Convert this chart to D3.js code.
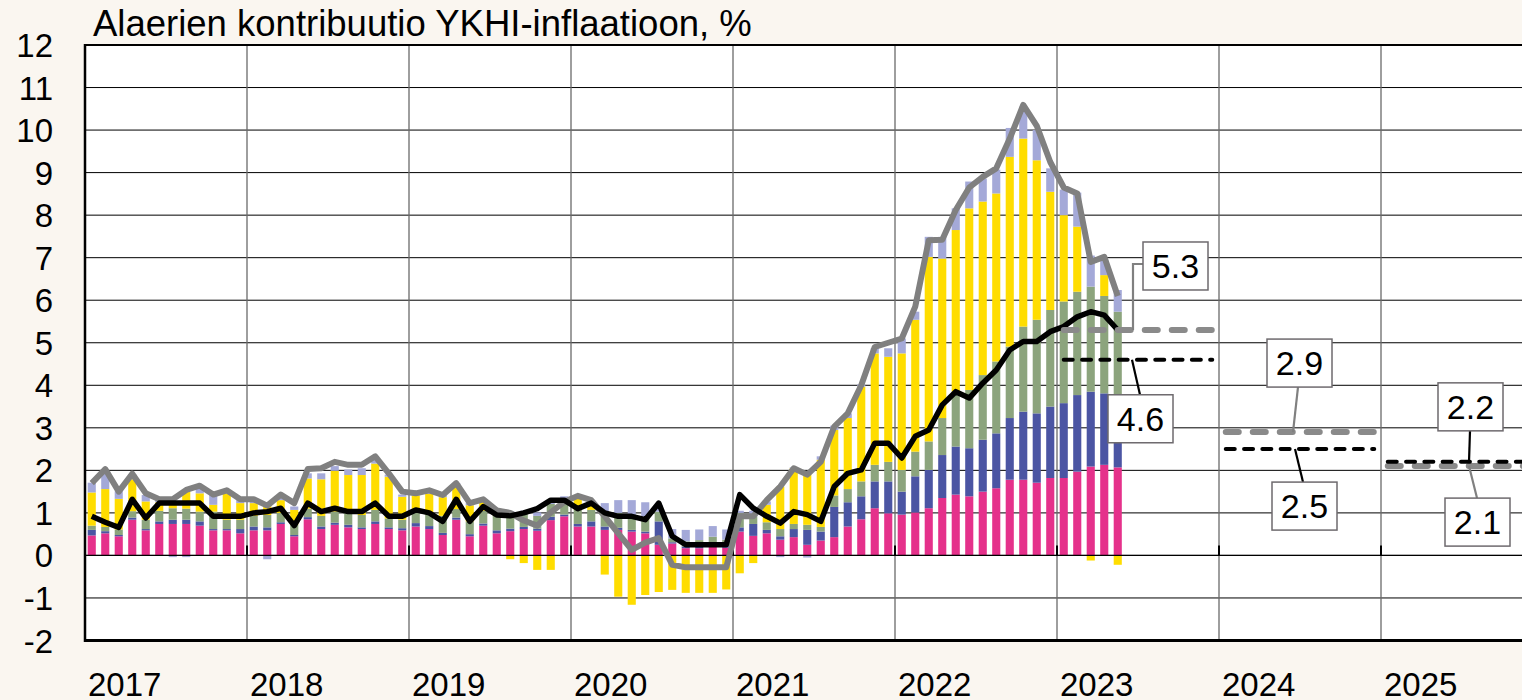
<!DOCTYPE html>
<html>
<head>
<meta charset="utf-8">
<script src="https://cdn.jsdelivr.net/npm/d3@7"></script>
<style>
  body { margin: 0; background: #faf6f0; }
  svg { display: block; font-family: "Liberation Sans", Arial, sans-serif; }
</style>
</head>
<body>
<div id="chart"></div>
<script>
// --- data (contributions, %-points) ---
const years = ["2017", "2018", "2019", "2020", "2021", "2022", "2023", "2024", "2025"];
const yTicks = [-2, -1, 0, 1, 2, 3, 4, 5, 6, 7, 8, 9, 10, 11, 12];

// Jan 2017 .. May 2023
const palvelut = [
  0.47, 0.52, 0.45, 0.84, 0.59, 0.74, 0.74, 0.74, 0.70, 0.59, 0.59, 0.52,
  0.59, 0.59, 0.74, 0.45, 0.85, 0.62, 0.72, 0.66, 0.62, 0.74, 0.62, 0.59,
  0.68, 0.62, 0.48, 0.84, 0.45, 0.70, 0.52, 0.57, 0.62, 0.58, 0.83, 0.92,
  0.68, 0.68, 0.60, 0.60, 0.56, 0.52, 0.25, 0.28, 0.17, 0.17, 0.20, 0.18,
  0.56, 0.46, 0.52, 0.37, 0.43, 0.25, 0.35, 0.43, 0.68, 0.85, 1.11, 0.99,
  0.96, 1.01, 1.11, 1.35, 1.43, 1.39, 1.50, 1.58, 1.78, 1.78, 1.71, 1.82,
  1.82, 1.97, 2.09, 2.13, 2.07];
const teollisuus = [
  0.13, 0.05, 0.03, 0.05, 0.03, 0.06, 0.10, 0.10, 0.10, 0.03, 0.03, 0.10,
  0.09, 0.07, 0.04, 0.03, 0.05, 0.06, 0.05, 0.06, 0.04, 0.06, 0.04, 0.05,
  0.08, 0.07, 0.05, 0.05, 0.05, 0.05, 0.07, 0.06, 0.05, 0.05, 0.08, 0.04,
  0.06, 0.12, 0.08, 0.05, 0.04, 0.04, 0.55, 0.03, 0.04, 0.04, 0.04, 0.04,
  0.10, 0.28, 0.08, 0.08, 0.19, 0.35, 0.21, 0.71, 0.57, 0.54, 0.63, 0.75,
  0.54, 0.85, 0.90, 1.01, 1.13, 1.13, 1.22, 1.29, 1.45, 1.60, 1.63, 1.68,
  1.76, 1.80, 1.76, 1.68, 1.70];
const elintarvikkeet = [
  0.10, 0.10, 0.13, 0.15, 0.22, 0.25, 0.27, 0.26, 0.23, 0.41, 0.22, 0.22,
  0.25, 0.29, 0.22, 0.24, 0.20, 0.25, 0.26, 0.28, 0.29, 0.27, 0.21, 0.20,
  0.25, 0.28, 0.40, 0.20, 0.30, 0.30, 0.35, 0.35, 0.33, 0.30, 0.30, 0.33,
  0.33, 0.27, 0.30, 0.35, 0.32, 0.32, 0.23, 0.09, 0.12, 0.15, 0.20, 0.15,
  0.34, 0.18, 0.18, 0.17, 0.12, 0.12, 0.11, 0.27, 0.31, 0.35, 0.39, 0.46,
  0.51, 0.58, 0.67, 0.87, 1.29, 1.37, 1.52, 1.69, 1.68, 2.00, 2.20, 2.27,
  2.39, 2.43, 2.47, 2.29, 1.96];
const energia = [
  0.78, 0.89, 0.72, 0.75, 0.43, 0.20, 0.14, 0.40, 0.43, 0.16, 0.62, 0.39,
  0.30, 0.24, 0.30, 0.35, 0.71, 0.86, 0.96, 0.89, 0.94, 1.09, 0.98, 0.54,
  0.40, 0.48, 0.44, 0.55, 0.38, 0.22, 0.07, -0.09, -0.18, -0.34, -0.34, 0.05,
  0.28, 0.13, -0.45, -0.97, -1.16, -0.93, -0.86, -0.81, -0.88, -0.88, -0.88, -0.80,
  -0.42, -0.18, 0.41, 1.00, 1.31, 1.21, 1.58, 1.54, 1.67, 2.23, 2.62, 2.47,
  2.74, 3.10, 4.34, 3.75, 3.80, 4.27, 4.08, 3.95, 4.46, 4.42, 3.75, 2.78,
  2.03, 1.53, -0.12, 0.49, -0.22];
const muut = [
  0.23, 0.40, 0.18, 0.12, 0.15, 0.07, -0.04, -0.04, 0.12, 0.23, 0.04, 0.07,
  0.05, -0.09, 0.06, 0.08, 0.12, 0.14, 0.11, 0.13, 0.16, 0.10, 0.05, 0.05,
  0.05, 0.06, 0.05, 0.06, 0.05, 0.05, 0.05, 0.06, 0.05, 0.08, 0.06, 0.05,
  0.05, 0.05, 0.25, 0.30, 0.38, 0.37, 0.15, 0.22, 0.27, 0.25, 0.25, 0.24,
  0.05, 0.13, 0.08, -0.04, 0.02, -0.05, 0.08, 0.10, 0.11, 0.05, 0.12, 0.20,
  0.35, 0.19, 0.47, 0.51, 0.51, 0.63, 0.54, 0.56, 0.68, 0.75, 0.71, 0.55,
  0.60, 0.80, 0.73, 0.36, 0.51];
const ykhi = [
  1.70, 2.03, 1.50, 1.92, 1.46, 1.32, 1.32, 1.54, 1.64, 1.43, 1.53, 1.32,
  1.32, 1.17, 1.43, 1.23, 2.03, 2.05, 2.20, 2.13, 2.13, 2.33, 1.93, 1.50,
  1.46, 1.53, 1.42, 1.70, 1.23, 1.32, 1.06, 1.00, 0.82, 0.70, 1.01, 1.26,
  1.40, 1.30, 0.92, 0.52, 0.13, 0.30, 0.41, -0.22, -0.28, -0.28, -0.28, -0.28,
  0.92, 0.92, 1.30, 1.62, 2.05, 1.90, 2.20, 3.03, 3.34, 4.00, 4.90, 5.00,
  5.10, 5.85, 7.41, 7.42, 8.12, 8.65, 8.90, 9.10, 9.80, 10.59, 10.10, 9.25,
  8.65, 8.51, 6.90, 7.02, 6.10];
const pohja = [
  0.92, 0.78, 0.66, 1.32, 0.88, 1.23, 1.23, 1.23, 1.23, 0.92, 0.92, 0.92,
  1.00, 1.03, 1.11, 0.70, 1.23, 1.03, 1.11, 1.03, 1.03, 1.23, 0.92, 0.92,
  1.07, 1.00, 0.80, 1.32, 0.80, 1.15, 0.95, 0.93, 1.00, 1.10, 1.30, 1.30,
  1.10, 1.23, 1.00, 0.92, 0.92, 0.84, 1.23, 0.45, 0.25, 0.25, 0.25, 0.25,
  1.43, 1.11, 0.92, 0.76, 1.03, 0.96, 0.80, 1.62, 1.93, 2.01, 2.64, 2.64,
  2.29, 2.80, 2.95, 3.54, 3.85, 3.70, 4.05, 4.36, 4.83, 5.03, 5.03, 5.26,
  5.38, 5.61, 5.73, 5.65, 5.30];

// forecasts, annual averages
const ennusteVuodet = ["2023", "2024", "2025"];
const ennusteYkhi = [5.3, 2.9, 2.1];
const ennustePohja = [4.6, 2.5, 2.2];

// --- layout ---
const W = 1522, H = 700;
const plotLeft = 85, plotTop = 45, plotBottom = 640.5;
const plotRight = plotLeft + 162 * years.length; // plot runs off the right edge

// all months of the axis, "2017-01" ...
const months = [];
years.forEach(y => d3.range(1, 13).forEach(m => months.push(y + "-" + String(m).padStart(2, "0"))));
const obsMonths = months.slice(0, palvelut.length);

const keys = ["palvelut", "teollisuus", "elintarvikkeet", "energia", "muut"];
const colors = {
  palvelut: "#e5318b",
  teollisuus: "#4b55a3",
  elintarvikkeet: "#8ca47d",
  energia: "#ffdd00",
  muut: "#a4a9d8"
};
const series = { palvelut, teollisuus, elintarvikkeet, energia, muut };

const table = obsMonths.map((m, i) => {
  const row = { month: m };
  keys.forEach(k => row[k] = series[k][i]);
  return row;
});

const x = d3.scaleBand().domain(months).range([plotLeft, plotRight]).paddingInner(0.4).paddingOuter(0.2);
const xYear = d3.scaleBand().domain(years).range([plotLeft, plotRight]).padding(0);
const y = d3.scaleLinear().domain([-2, 12]).range([plotBottom, plotTop]);
const mid = m => x(m) + x.bandwidth() / 2;

const svg = d3.select("#chart").append("svg")
  .attr("width", W)
  .attr("height", H);

svg.append("rect").attr("width", W).attr("height", H).attr("fill", "#faf6f0");
svg.append("rect")
  .attr("x", plotLeft).attr("y", plotTop)
  .attr("width", plotRight - plotLeft).attr("height", plotBottom - plotTop)
  .attr("fill", "#fff");

// grid
svg.append("g").selectAll("line")
  .data(yTicks)
  .enter().append("line")
  .attr("x1", plotLeft).attr("x2", plotRight)
  .attr("y1", d => y(d)).attr("y2", d => y(d))
  .attr("stroke", "#000").attr("stroke-width", 1);

svg.append("g").selectAll("line")
  .data(years.slice(1))
  .enter().append("line")
  .attr("x1", d => xYear(d)).attr("x2", d => xYear(d))
  .attr("y1", plotTop).attr("y2", plotBottom)
  .attr("stroke", "#6a6a6a").attr("stroke-width", 1.3);

// stacked bars
const stacked = d3.stack().keys(keys).offset(d3.stackOffsetDiverging)(table);

svg.append("g").selectAll("g")
  .data(stacked)
  .enter().append("g")
  .attr("fill", d => colors[d.key])
  .selectAll("rect")
  .data(d => d)
  .enter().append("rect")
  .attr("x", d => x(d.data.month))
  .attr("width", x.bandwidth())
  .attr("y", d => y(Math.max(d[0], d[1])))
  .attr("height", d => Math.abs(y(d[0]) - y(d[1])));

// horizontal axis at zero with year ticks
svg.append("line")
  .attr("x1", plotLeft).attr("x2", plotRight)
  .attr("y1", y(0)).attr("y2", y(0))
  .attr("stroke", "#000").attr("stroke-width", 1.2);
svg.append("g").selectAll("line")
  .data(years.slice(1))
  .enter().append("line")
  .attr("x1", d => xYear(d)).attr("x2", d => xYear(d))
  .attr("y1", y(0)).attr("y2", y(0) - 10)
  .attr("stroke", "#000").attr("stroke-width", 2);

// lines
const line = d3.line().x((d, i) => mid(obsMonths[i])).y(d => y(d));
svg.append("path").datum(ykhi)
  .attr("d", line)
  .attr("fill", "none").attr("stroke", "#808080")
  .attr("stroke-width", 6).attr("stroke-linejoin", "round");
svg.append("path").datum(pohja)
  .attr("d", line)
  .attr("fill", "none").attr("stroke", "#000")
  .attr("stroke-width", 5.5).attr("stroke-linejoin", "round");

// forecast dashes, Jan..Dec of each year
const fc = svg.append("g");
fc.selectAll(".fy")
  .data(ennusteVuodet.map((v, i) => ({ yr: v, val: ennusteYkhi[i] })))
  .enter().append("line")
  .attr("x1", d => mid(d.yr + "-01")).attr("x2", d => mid(d.yr + "-12"))
  .attr("y1", d => y(d.val)).attr("y2", d => y(d.val))
  .attr("stroke", "#8a8a8a").attr("stroke-width", 6)
  .attr("stroke-linecap", "round").attr("stroke-dasharray", "13,14");
fc.selectAll(".fp")
  .data(ennusteVuodet.map((v, i) => ({ yr: v, val: ennustePohja[i] })))
  .enter().append("line")
  .attr("x1", d => mid(d.yr + "-01")).attr("x2", d => mid(d.yr + "-12"))
  .attr("y1", d => y(d.val)).attr("y2", d => y(d.val))
  .attr("stroke", "#000").attr("stroke-width", 4)
  .attr("stroke-linecap", "round").attr("stroke-dasharray", "9,9.3");

// value labels: anchor on the dash (dx from year start), box offset from anchor
const labels = [
  { yr: "2023", val: ennusteYkhi[0], col: "#808080", ax: 76, bx: 10, by: -88, elbow: true },
  { yr: "2023", val: ennustePohja[0], col: "#000", ax: 75, bx: -24, by: 35, cx: 8 },
  { yr: "2024", val: ennusteYkhi[1], col: "#808080", ax: 74, bx: -26, by: -93, cx: 5 },
  { yr: "2024", val: ennustePohja[1], col: "#000", ax: 76, bx: -23, by: 33, cx: 8 },
  { yr: "2025", val: ennustePohja[2], col: "#000", ax: 88, bx: -31, by: -79, cx: 1 },
  { yr: "2025", val: ennusteYkhi[2], col: "#808080", ax: 88, bx: -24, by: 32, cx: 8 }
];
const bw = 65, bh = 48;
const lab = svg.append("g");
labels.forEach(d => {
  const ax = xYear(d.yr) + d.ax, ay = y(d.val);
  const bx = ax + d.bx, by = ay + d.by;
  let pts;
  if (d.elbow) {
    pts = [[ax, ay], [ax, by + 22], [bx, by + 22]];
  } else if (d.by < 0) {
    pts = [[ax, ay], [ax + d.cx, by + bh]];
  } else {
    pts = [[ax, ay], [ax + d.cx, by]];
  }
  lab.append("path")
    .attr("d", d3.line()(pts))
    .attr("fill", "none").attr("stroke", d.col).attr("stroke-width", 2.2);
  lab.append("rect")
    .attr("x", bx).attr("y", by).attr("width", bw).attr("height", bh)
    .attr("fill", "#fff").attr("stroke", "#6e6a6e").attr("stroke-width", 1.5);
  lab.append("text")
    .attr("x", bx + bw / 2).attr("y", by + bh / 2 + 12)
    .attr("text-anchor", "middle")
    .style("font-size", "34px")
    .text(d3.format(".1f")(d.val));
});

// frame
svg.append("line").attr("x1", plotLeft).attr("x2", plotRight).attr("y1", plotTop).attr("y2", plotTop)
  .attr("stroke", "#000").attr("stroke-width", 2);
svg.append("line").attr("x1", plotLeft).attr("x2", plotRight).attr("y1", plotBottom).attr("y2", plotBottom)
  .attr("stroke", "#000").attr("stroke-width", 3);
svg.append("line").attr("x1", plotLeft).attr("x2", plotLeft).attr("y1", plotTop - 1).attr("y2", plotBottom + 1.5)
  .attr("stroke", "#000").attr("stroke-width", 2.5);

// y tick labels
svg.append("g").selectAll("text")
  .data(yTicks)
  .enter().append("text")
  .attr("x", 53).attr("y", d => y(d) + 12)
  .attr("text-anchor", "end")
  .style("font-size", "33px")
  .text(d => d);

// year labels
svg.append("g").selectAll("text")
  .data(years)
  .enter().append("text")
  .attr("x", d => xYear(d) + 3).attr("y", 696)
  .style("font-size", "33px")
  .text(d => d);

svg.append("text")
  .attr("x", 93).attr("y", 36)
  .style("font-size", "36.5px")
  .text("Alaerien kontribuutio YKHI-inflaatioon, %");
</script>
</body>
</html>
